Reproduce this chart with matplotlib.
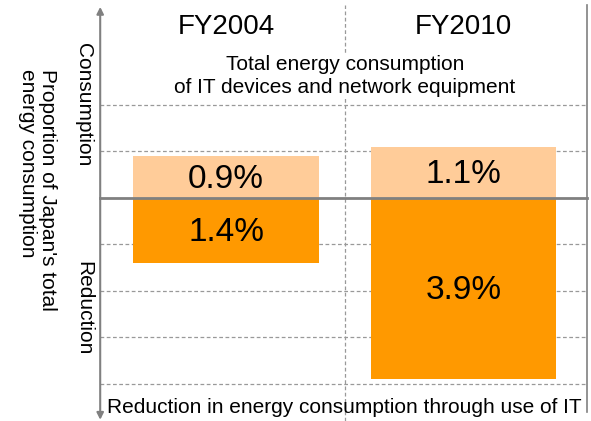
import matplotlib.pyplot as plt

plt.rcParams['font.family'] = ['Liberation Sans', 'DejaVu Sans']

# data (percent of Japan's total energy consumption)
years = ['FY2004', 'FY2010']
consumption = [0.9, 1.1]
reduction = [1.4, 3.9]
grid_levels = [2, 1, -1, -2, -3, -4]

peach = '#FFCC99'
orange = '#FF9900'
gray = '#808080'

fig = plt.figure(figsize=(5.91, 4.21), dpi=100)
ax = fig.add_axes([0, 0, 1, 1])
ax.set_xlim(-0.952, 1.537)
ax.set_ylim(-4.796, 4.258)
ax.axis('off')

x = list(range(len(years)))
x_left, x_right = -0.53, 1.52

# dashed grid
for g in grid_levels:
    ax.plot([x_left, x_right], [g, g], ls=(0, (3, 2)), color='#999999', lw=0.9, zorder=1)
ax.plot([0.5, 0.5], [-4.8, 4.15], ls=(0, (3, 2)), color='#999999', lw=0.9, zorder=1)
ax.plot([x_right, x_right], [-4.6, 4.15], color=gray, lw=1.2, zorder=1)

# bars
ax.bar(x, consumption, width=0.78, color=peach, zorder=2)
ax.bar(x, [-r for r in reduction], width=0.78, color=orange, zorder=2)
ax.plot([x_left, x_right], [0, 0], color=gray, lw=2, zorder=3)

for xi, c, r in zip(x, consumption, reduction):
    ax.text(xi, c / 2 - 0.05, f'{c}%', ha='center', va='center', fontsize=24, zorder=4)
    ax.text(xi, -r / 2 - 0.05, f'{r}%', ha='center', va='center', fontsize=24, zorder=4)
    ax.text(xi, 3.68, years[xi], ha='center', va='center', fontsize=20)

# vertical axis arrow
ax.annotate('', xy=(x_left, 4.11), xytext=(x_left, -4.77),
            arrowprops=dict(arrowstyle='<|-|>', color=gray, lw=1.5,
                            mutation_scale=10, shrinkA=0, shrinkB=0))

ax.text(0.5, 2.62, 'Total energy consumption\nof IT devices and network equipment',
        ha='center', va='center', fontsize=15, linespacing=1.3, zorder=2,
        bbox=dict(facecolor='white', edgecolor='none', pad=1))
ax.text(0.5, -4.5, 'Reduction in energy consumption through use of IT',
        ha='center', va='center', fontsize=15)

ax.text(-0.6, 2.0, 'Consumption', rotation=270, ha='center', va='center', fontsize=15)
ax.text(-0.6, -2.36, 'Reduction', rotation=270, ha='center', va='center', fontsize=15)
ax.text(-0.795, 2.78, "Proportion of Japan's total\nenergy consumption", rotation=270,
        ha='center', va='top', multialignment='left', fontsize=15, linespacing=1.1)

fig.savefig('out.png', dpi=100)
